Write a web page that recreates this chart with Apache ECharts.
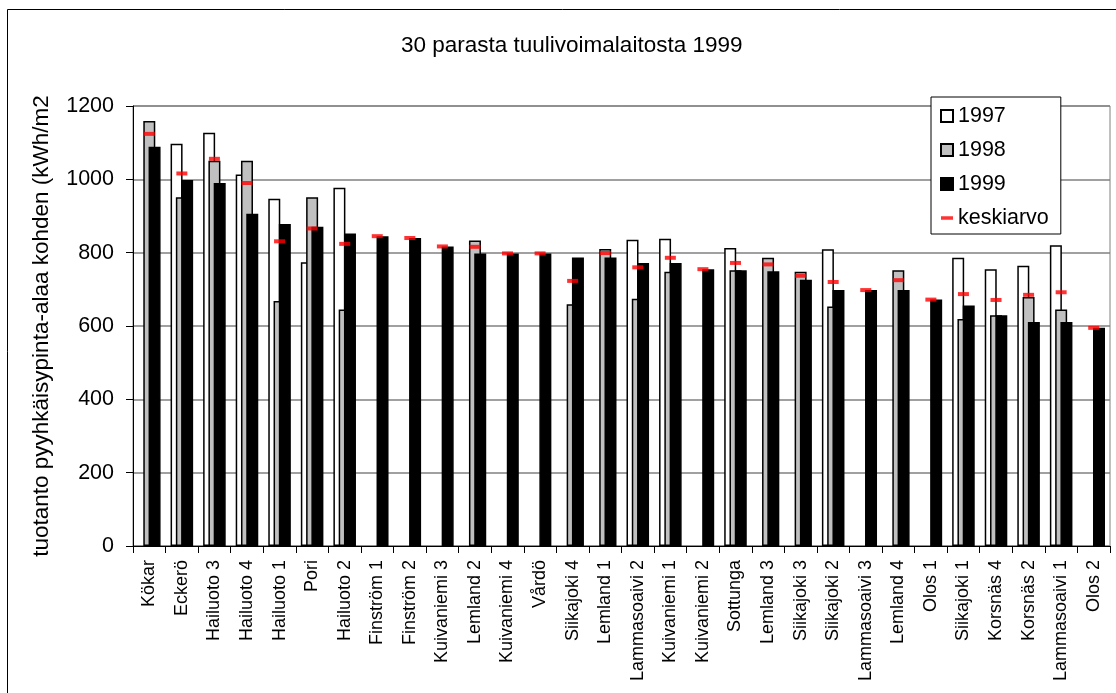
<!DOCTYPE html>
<html>
<head>
<meta charset="utf-8">
<title>30 parasta tuulivoimalaitosta 1999</title>
<script src="https://cdn.jsdelivr.net/npm/echarts@6/dist/echarts.min.js"></script>
<style>
  html, body { margin: 0; padding: 0; background: #fff; }
  #chart { width: 1116px; height: 693px; }
</style>
</head>
<body>
<div id="chart"></div>
<script>
const categories = ['Kökar', 'Eckerö', 'Hailuoto 3', 'Hailuoto 4', 'Hailuoto 1', 'Pori', 'Hailuoto 2',
  'Finström 1', 'Finström 2', 'Kuivaniemi 3', 'Lemland 2', 'Kuivaniemi 4', 'Vårdö', 'Siikajoki 4',
  'Lemland 1', 'Lammasoaivi 2', 'Kuivaniemi 1', 'Kuivaniemi 2', 'Sottunga', 'Lemland 3', 'Siikajoki 3',
  'Siikajoki 2', 'Lammasoaivi 3', 'Lemland 4', 'Olos 1', 'Siikajoki 1', 'Korsnäs 4', 'Korsnäs 2',
  'Lammasoaivi 1', 'Olos 2']
// null = ei tuotantoa sinä vuonna
const v1997 = [null, 1097, 1127, 1013, 947, 774, 977, null, null, null, null, null, null, null,
  null, 835, 838, null, 813, null, null, 809, null, null, null, 786, 755, 764, 820, null]
const v1998 = [1159, 951, 1051, 1051, 668, 951, 645, null, null, null, 833, null, null, 659,
  810, 674, 748, null, 752, 786, 748, 653, null, 752, null, 619, 629, 679, 645, null]
const v1999 = [1089, 998, 990, 906, 878, 871, 852, 845, 840, 817, 798, 798, 798, 787,
  787, 772, 772, 755, 752, 749, 726, 698, 698, 698, 672, 656, 629, 611, 611, 595]
const keskiarvo = [1124, 1016, 1056, 990, 831, 866, 824, 845, 840, 817, 816, 798, 798, 723,
  799, 760, 786, 755, 772, 768, 737, 720, 698, 725, 672, 687, 671, 685, 692, 595]
const yTicks = { min: 0, max: 1200, interval: 200 }

const font = 'Liberation Sans, Arial, sans-serif'

const barCommon = {
  type: 'bar',
  barWidth: 12,
  barGap: '-56%'
}

const option = {
  animation: false,
  textStyle: { fontFamily: font, color: '#000' },
  title: {
    text: '30 parasta tuulivoimalaitosta 1999',
    left: 396,
    top: 29,
    textStyle: { fontSize: 22.5, fontWeight: 'normal', color: '#000', fontFamily: font }
  },
  graphic: [
    {
      type: 'rect',
      z: -10,
      shape: { x: 7.5, y: 9.5, width: 1200, height: 800 },
      style: { fill: 'none', stroke: '#000', lineWidth: 1 }
    }
  ],
  legend: {
    orient: 'vertical',
    left: 931,
    top: 97,
    width: 129,
    data: [
      { name: '1997', icon: 'rect' },
      { name: '1998', icon: 'rect' },
      { name: '1999', icon: 'rect' },
      { name: 'keskiarvo', icon: 'path://M0,0L12,0L12,3.5L0,3.5Z' }
    ],
    itemWidth: 12,
    itemHeight: 12,
    itemGap: 12,
    padding: [8, 12, 5, 9],
    borderColor: '#000',
    borderWidth: 1,
    backgroundColor: '#fff',
    textStyle: { fontSize: 21.5, lineHeight: 22, color: '#000', fontFamily: font }
  },
  grid: {
    left: 133,
    top: 106,
    right: 6,
    bottom: 147,
    show: true,
    borderColor: '#808080',
    borderWidth: 1
  },
  xAxis: {
    type: 'category',
    data: categories,
    boundaryGap: true,
    axisLine: { lineStyle: { color: '#000', width: 1 } },
    axisTick: { show: true, length: 7, lineStyle: { color: '#000' } },
    axisLabel: {
      rotate: 90,
      interval: 0,
      margin: 14,
      fontSize: 18,
      color: '#000',
      fontFamily: font
    }
  },
  yAxis: {
    type: 'value',
    min: yTicks.min,
    max: yTicks.max,
    interval: yTicks.interval,
    name: 'tuotanto pyyhkäisypinta-alaa kohden (kWh/m2',
    nameLocation: 'middle',
    nameGap: 80,
    nameTextStyle: { fontSize: 22.5, color: '#000', fontFamily: font },
    axisLine: { show: true, lineStyle: { color: '#000', width: 1 } },
    axisTick: { show: true, length: 7, lineStyle: { color: '#000' } },
    axisLabel: {
      fontSize: 21.5,
      margin: 19,
      color: '#000',
      fontFamily: font,
      formatter: (v) => String(v)
    },
    splitLine: { show: true, lineStyle: { color: '#808080', width: 1.5 } }
  },
  series: [
    Object.assign({}, barCommon, {
      name: '1997',
      data: v1997,
      itemStyle: { color: '#ffffff', borderColor: '#000', borderWidth: 1.5 }
    }),
    Object.assign({}, barCommon, {
      name: '1998',
      data: v1998,
      itemStyle: { color: '#c0c0c0', borderColor: '#000', borderWidth: 1.5 }
    }),
    Object.assign({}, barCommon, {
      name: '1999',
      data: v1999,
      itemStyle: { color: '#000000', borderColor: '#000', borderWidth: 1.5 }
    }),
    {
      name: 'keskiarvo',
      type: 'scatter',
      data: keskiarvo,
      symbol: 'rect',
      symbolSize: [11, 4],
      itemStyle: { color: '#ff0000' },
      z: 5
    }
  ]
}

const myChart = echarts.init(document.getElementById('chart'))
myChart.setOption(option, true)
window.addEventListener('resize', () => {
  myChart.resize()
})
</script>
</body>
</html>
